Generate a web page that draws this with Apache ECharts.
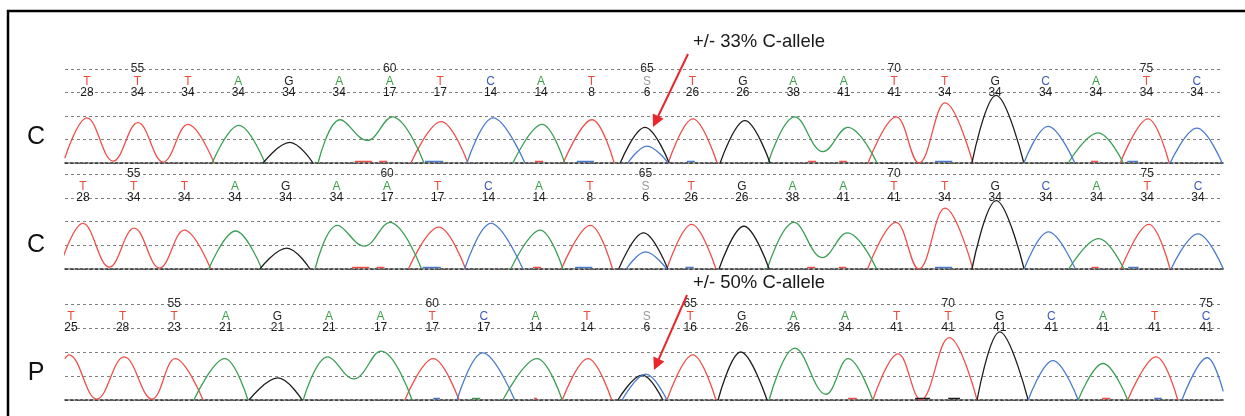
<!DOCTYPE html>
<html><head><meta charset="utf-8">
<script src="https://cdn.jsdelivr.net/npm/echarts@6/dist/echarts.min.js"></script>
<style>html,body{margin:0;padding:0;background:#fff}#chart{width:1245px;height:416px}</style>
</head><body><div id="chart"></div>
<script>
// ---------- DATA ----------
// Base calls (same sequence in both runs)
const callsC = ['T','T','T','A','G','A','A','T','C','A','T','S','T','G','A','A','T','T','G','C','A','T','C'];
const qualC  = [28,34,34,34,34,34,17,17,14,14,8,6,26,26,38,41,41,34,34,34,34,34,34];
const firstPosC = 54;
const callsP = ['T','T','T','A','G','A','A','T','C','A','T','S','T','G','A','A','T','T','G','C','A','T','C'];
const qualP  = [25,28,23,21,21,21,17,17,17,14,14,6,16,26,26,34,41,41,41,41,41,41,41];
const firstPosP = 53;
const tickLabels = [55,60,65,70,75];
const rowLabels = ['C','C','P'];
const notes = ['+/- 33% C-allele','+/- 50% C-allele'];

// Traces: [sequence position, signal (% of panel scale)], null = gap
const c_T = [[53.56,5],[54.00,48],[54.52,2],[55.01,43],[55.51,1],[56.00,41],[56.52,0],null,
  [60.42,0],[61.02,44],[61.55,0],null,
  [63.44,0],[64.01,46],[64.45,0],null,
  [65.52,0],[66.01,47],[66.49,0],null,
  [69.48,0],[70.04,49],[70.49,0],[71.01,64],[71.56,0],null,
  [74.48,0],[75.03,47],[75.45,0]];
const c_A = [[56.48,0],[57.01,40],[57.53,0],null,
  [58.58,0],[59.02,46],[59.55,24],[60.05,49],[60.68,0],null,
  [62.44,0],[63.02,41],[63.47,0],null,
  [67.50,0],[68.03,49],[68.59,12],[69.08,38],[69.66,0],null,
  [73.45,0],[74.04,32],[74.54,0]];
const c_G = [[57.49,0],[58.02,22],[58.48,0],null,
  [64.57,0],[65.06,38],[65.54,0],null,
  [66.55,0],[67.04,45],[67.54,0],null,
  [71.54,0],[72.02,72],[72.57,0]];
const c_C = [[61.53,0],[62.05,48],[62.68,0],null,
  [64.72,0],[65.10,18],[65.52,0],null,
  [72.57,0],[73.05,39],[73.58,0],null,
  [75.47,0],[76.00,37],[76.50,0]];
const c_Tlow = [[59.31,1.5],[59.65,1.5],null,[59.79,1.5],[59.95,1.5],null,[62.88,1.5],[63.04,1.5],null,
  [68.29,1.5],[68.45,1.5],null,[68.91,1.5],[69.06,1.5],null,[73.90,1.5],[74.04,1.5]];
const c_Clow = [[60.70,1.5],[61.06,1.5],null,[63.71,1.5],[64.05,1.5],null,[65.89,1.5],[66.05,1.5],null,
  [70.81,1.5],[71.15,1.5],null,[74.62,1.5],[74.83,1.5]];

const p_T = [[52.88,43],[52.96,47],[53.50,1],[54.03,45],[54.57,1],[55.02,43],[55.56,0],null,
  [59.47,0],[60.02,43],[60.52,0],null,
  [62.52,0],[63.02,43],[63.48,0],null,
  [64.55,0],[65.05,47],[65.50,0],null,
  [68.54,0],[69.03,48],[69.47,0],[70.02,65],[70.56,0],null,
  [73.48,0],[74.03,45],[74.45,0]];
const p_A = [[55.38,0],[55.98,43],[56.43,0],null,
  [57.50,0],[57.98,45],[58.48,22],[59.01,51],[59.61,0],null,
  [61.37,0],[62.03,43],[62.52,0],null,
  [66.53,0],[67.03,54],[67.63,6],[68.06,43],[68.54,0],null,
  [72.52,0],[73.00,38],[73.48,0]];
const p_G = [[56.45,0],[57.01,23],[57.48,0],null,
  [63.60,0],[64.07,26],[64.47,0],null,
  [65.54,0],[65.98,50],[66.49,0],null,
  [70.56,0],[71.00,71],[71.55,0]];
const p_C = [[60.48,0],[60.98,49],[61.60,0],null,
  [63.68,0],[64.14,27],[64.55,0],null,
  [71.55,0],[72.03,41],[72.52,0],null,
  [74.53,0],[75.02,44],[75.33,9]];
const p_Tlow = [[61.97,1.5],[62.03,1.5],null,[68.06,1.5],[68.23,1.5],null,[72.98,1.5],[73.14,1.5]];
const p_Alow = [[60.77,1.5],[60.93,1.5]];
const p_Glow = [[69.36,1.5],[69.65,1.5],null,[70.00,1.5],[70.23,1.5]];
const p_Clow = [[60.02,1.5],[60.15,1.5],null,[73.99,1.5],[74.14,1.5]];

// ---------- STYLE / LAYOUT ----------
const COLORS = {T:'#ee4f4a', A:'#3a9e55', G:'#1e1e1e', C:'#4a7acc', S:'#9a9a9a'};
const LETTER_COLORS = {T:'#ee4a3a', A:'#3c9e48', G:'#222222', C:'#3f58c0', S:'#999999'};
const FONT = '"Liberation Sans", Arial, sans-serif';

const panels = [
  {top:69,  height:94, xMin:53.564, xMax:76.517, calls:callsC, qual:qualC, first:firstPosC, sShift:0.10,
   traces:{T:c_T, A:c_A, G:c_G, C:c_C}, low:{T:c_Tlow, C:c_Clow}, labelY:137},
  {top:174, height:95, xMin:53.645, xMax:76.494, calls:callsC, qual:qualC, first:firstPosC, sShift:0.10,
   traces:{T:c_T, A:c_A, G:c_G, C:c_C}, low:{T:c_Tlow, C:c_Clow}, labelY:245},
  {top:304, height:96, xMin:52.884, xMax:75.326, calls:callsP, qual:qualP, first:firstPosP, sShift:0.16,
   traces:{T:p_T, A:p_A, G:p_G, C:p_C}, low:{T:p_Tlow, A:p_Alow, G:p_Glow, C:p_Clow}, labelY:373}
];

const prep = arr => arr.map(p => p === null ? ['-','-'] : p);

const grid = [], xAxis = [], yAxis = [], series = [];
panels.forEach((pn, g) => {
  grid.push({left:65, right:22, top:pn.top, height:pn.height});
  xAxis.push({type:'value', gridIndex:g, min:pn.xMin, max:pn.xMax,
    axisLine:{show:true, onZero:false, lineStyle:{color:'#2a2a2a', width:1.6, type:[3,2]}},
    axisTick:{show:false}, axisLabel:{show:false}, splitLine:{show:false}});
  yAxis.push({type:'value', gridIndex:g, min:0, max:100, interval:25,
    axisLine:{show:false}, axisTick:{show:false}, axisLabel:{show:false},
    splitLine:{show:true, showMinLine:true, showMaxLine:true, lineStyle:{color:'#808080', width:1, type:[3,3]}}});
  ['T','A','G','C'].forEach(b => {
    series.push({type:'line', xAxisIndex:g, yAxisIndex:g, data:prep(pn.traces[b]), smooth:0.4,
      showSymbol:false, symbol:'none', connectNulls:false, clip:true, silent:true, animation:false, z:3,
      lineStyle:{color:COLORS[b], width:1.3}});
    if (pn.low[b]) series.push({type:'line', xAxisIndex:g, yAxisIndex:g, data:prep(pn.low[b]), smooth:false,
      showSymbol:false, symbol:'none', connectNulls:false, clip:true, silent:true, animation:false, z:4,
      lineStyle:{color:COLORS[b], width:1.5}});
  });
  // base calls, quality values, position ticks
  const items = [];
  const posOf = (i) => pn.first + i + (pn.calls[i] === 'S' ? pn.sShift : 0);
  pn.calls.forEach((c, i) => {
    items.push({name:c, value:[posOf(i), 87], label:{color:LETTER_COLORS[c]}});
    items.push({name:String(pn.qual[i]), value:[posOf(i), 75], label:{color:'#1a1a1a'}});
  });
  tickLabels.forEach(t => {
    const i = t - pn.first;
    items.push({name:String(t), value:[posOf(i), 100], label:{color:'#2a2a2a'}});
  });
  series.push({type:'scatter', xAxisIndex:g, yAxisIndex:g, data:items, symbolSize:1, clip:false,
    itemStyle:{color:'rgba(0,0,0,0)'}, silent:true, animation:false, z:5,
    label:{show:true, position:'inside', formatter:'{b}', fontSize:12, fontFamily:FONT,
      textBorderWidth:0, textBorderColor:'transparent', textShadowBlur:0, opacity:1}});
});

// ---------- GRAPHICS (frame, row labels, annotations) ----------
const graphic = [
  {type:'polyline', shape:{points:[[8,420],[8,11],[1250,11]]}, style:{stroke:'#000', lineWidth:2.5, fill:null}, z:10},
];
panels.forEach((pn, g) => graphic.push({type:'text', x:36, y:pn.labelY,
  style:{text:rowLabels[g], fontSize:25, fontFamily:FONT, fill:'#111', align:'center', verticalAlign:'middle'}}));
const arrows = [
  {text:notes[0], tx:693, ty:42, from:[688,54], tip:[653,127]},
  {text:notes[1], tx:693, ty:283, from:[687,295], tip:[654,370]}
];
arrows.forEach(a => {
  const dx = a.tip[0]-a.from[0], dy = a.tip[1]-a.from[1], L = Math.hypot(dx,dy);
  const ux = dx/L, uy = dy/L, hl = 12, hw = 6;
  const bx = a.tip[0]-ux*hl, by = a.tip[1]-uy*hl;
  graphic.push({type:'text', x:a.tx, y:a.ty, style:{text:a.text, fontSize:18.5, fontFamily:FONT, fill:'#1a1a1a', align:'left', verticalAlign:'middle'}, z:10});
  graphic.push({type:'line', shape:{x1:a.from[0], y1:a.from[1], x2:bx+ux*2, y2:by+uy*2}, style:{stroke:'#e8262b', lineWidth:2}, z:10});
  graphic.push({type:'polygon', shape:{points:[[a.tip[0],a.tip[1]],[bx-uy*hw, by+ux*hw],[bx+uy*hw, by-ux*hw]]}, style:{fill:'#e8262b'}, z:10});
});

const chart = echarts.init(document.getElementById('chart'), null, {renderer:'canvas'});
chart.setOption({animation:false, backgroundColor:'#ffffff', grid, xAxis, yAxis, series, graphic});
</script>
</body></html>
